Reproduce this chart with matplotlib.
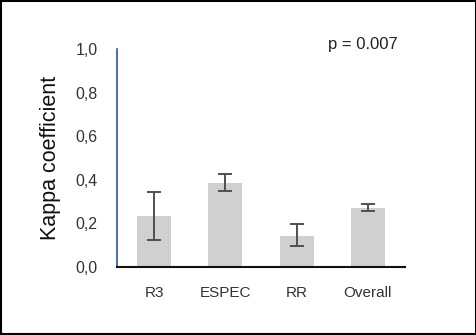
import matplotlib
matplotlib.use("Agg")
import matplotlib.pyplot as plt
from matplotlib.patches import Rectangle

categories = ["R3", "ESPEC", "RR", "Overall"]
kappa = [0.233, 0.386, 0.140, 0.270]
err_low = [0.121, 0.349, 0.093, 0.256]
err_high = [0.345, 0.428, 0.195, 0.288]
yticks = [0.0, 0.2, 0.4, 0.6, 0.8, 1.0]
ytick_labels = ["0,0", "0,2", "0,4", "0,6", "0,8", "1,0"]

plt.rcParams['font.family'] = ['Liberation Sans', 'DejaVu Sans']

fig = plt.figure(figsize=(4.77, 3.35), dpi=100)
ax = fig.add_axes([117/477, 1-266.7/335, 288/477, (266.7-49.3)/335])

x = list(range(len(categories)))
yerr = [[k - lo for k, lo in zip(kappa, err_low)], [hi - k for k, hi in zip(kappa, err_high)]]
ax.bar(x, kappa, width=0.48, color="#d0d0d0", zorder=1)
ax.errorbar(x, kappa, yerr=yerr, fmt="none", ecolor="#505050", elinewidth=1.4,
            capsize=5, capthick=1.4, zorder=2)

ax.set_xlim(-0.52, 3.52)
ax.set_ylim(0, 1.0)
ax.set_yticks(yticks)
ax.set_yticklabels(ytick_labels)
ax.set_xticks(x)
ax.set_xticklabels(categories)
ax.tick_params(axis="both", length=0, colors="#333333")
ax.tick_params(axis="y", pad=14, labelsize=11.5)
ax.tick_params(axis="x", pad=14, labelsize=11)
ax.set_ylabel("Kappa coefficient", fontsize=15.5, color="#111111", labelpad=10)

for s in ["top", "right"]:
    ax.spines[s].set_visible(False)
ax.spines["left"].set_color("#2e5597")
ax.spines["left"].set_linewidth(1.2)
ax.spines["bottom"].set_color("#111111")
ax.spines["bottom"].set_linewidth(1.5)

ax.text(0.976, 1.02, "p = 0.007", transform=ax.transAxes, ha="right", va="center",
        fontsize=12, color="#222222")

fig.patches.append(Rectangle((0.002, 0.003), 0.996, 0.994, transform=fig.transFigure,
                             fill=False, edgecolor="black", linewidth=1.5))

fig.savefig("out.png", dpi=100)
